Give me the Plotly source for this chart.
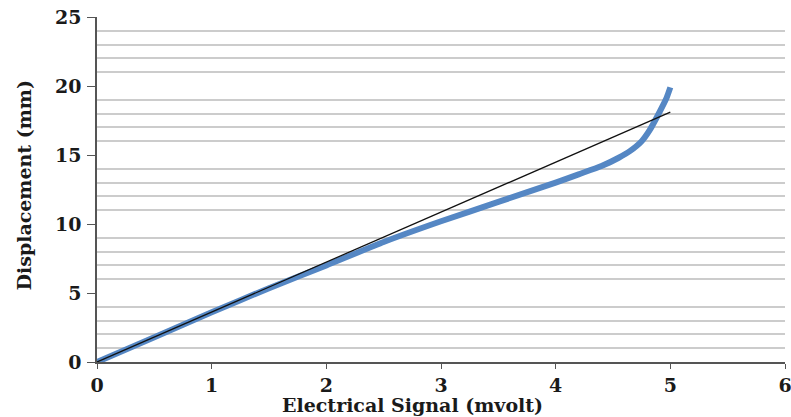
import plotly.graph_objects as go

# Measured curve (blue)
signal_mv = [0, 0.5, 1.0, 1.5, 2.0, 2.5, 3.0, 3.5, 4.0, 4.2, 4.4, 4.55, 4.65, 4.75, 4.82, 4.88, 4.93, 4.97, 5.0]
displacement_mm = [0, 1.8, 3.6, 5.35, 7.0, 8.7, 10.2, 11.6, 13.0, 13.6, 14.2, 14.8, 15.3, 16.0, 16.8, 17.7, 18.5, 19.2, 19.9]

# Linear fit (black)
fit_x = [0, 5.0]
fit_y = [0, 18.1]

x_ticks = [0, 1, 2, 3, 4, 5, 6]
y_ticks = [0, 5, 10, 15, 20, 25]
y_grid = [v for v in range(1, 25) if v % 5 != 0]

font_family = "DejaVu Serif"
text_color = "#1a1a1a"

fig = go.Figure()
fig.add_trace(go.Scatter(x=signal_mv, y=displacement_mm, mode="lines",
                         line=dict(color="#5587c4", width=6, shape="spline", smoothing=0.5),
                         showlegend=False))
fig.add_trace(go.Scatter(x=fit_x, y=fit_y, mode="lines",
                         line=dict(color="#111111", width=1.3),
                         showlegend=False))

fig.update_layout(
    width=791, height=417,
    margin=dict(l=97, r=6, t=17, b=55),
    paper_bgcolor="white", plot_bgcolor="white",
    font=dict(family=font_family, color=text_color),
    xaxis=dict(range=[0, 6], tickvals=x_ticks, ticktext=[str(v) for v in x_ticks],
               showgrid=False, zeroline=False, automargin=False,
               showline=True, linecolor="#555555", linewidth=1.5,
               ticks="outside", ticklen=5, tickcolor="#555555",
               ticklabelstandoff=0, ticklabeloverflow="allow",
               tickfont=dict(family=font_family, size=19, weight="bold", color=text_color)),
    yaxis=dict(range=[0, 25], tickvals=y_ticks, ticktext=[str(v) for v in y_ticks],
               showgrid=False, zeroline=False, automargin=False,
               showline=True, linecolor="#555555", linewidth=1.5,
               ticks="outside", ticklen=8, tickcolor="#555555",
               ticklabelstandoff=2, ticklabeloverflow="allow",
               tickfont=dict(family=font_family, size=19, weight="bold", color=text_color),
               minor=dict(tickvals=y_grid, showgrid=True, gridcolor="#cccccc", gridwidth=1.5, ticks="")),
    annotations=[
        dict(text="Electrical Signal (mvolt)", xref="paper", yref="paper",
             x=0.458, y=0, yshift=-43, showarrow=False, yanchor="middle", xanchor="center",
             font=dict(family=font_family, size=19, weight="bold", color=text_color)),
        dict(text="Displacement (mm)", xref="paper", yref="paper",
             x=0, xshift=-74, y=0.5, yshift=4, textangle=-90, showarrow=False,
             xanchor="center", yanchor="middle",
             font=dict(family=font_family, size=19, weight="bold", color=text_color)),
    ],
)

fig.write_html("out.html", config={"displayModeBar": False},
               post_script="document.body.style.margin='0';document.body.style.overflow='hidden';")
